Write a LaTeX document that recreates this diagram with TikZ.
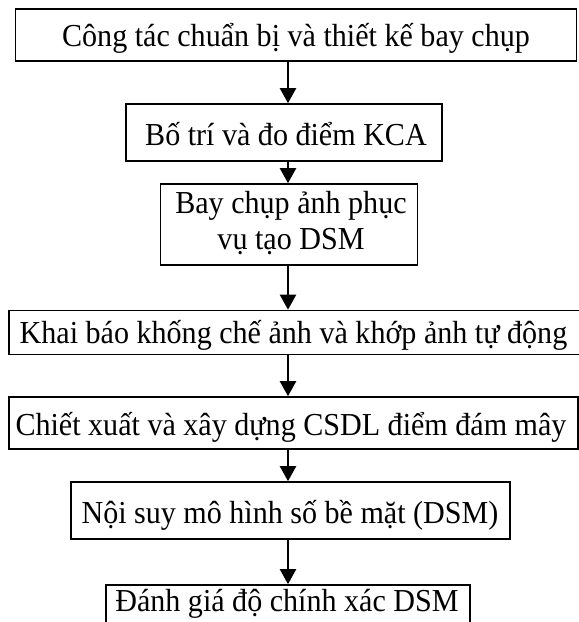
\documentclass[tikz,border=0pt]{standalone}
\usepackage{fontspec}
\setmainfont[FakeStretch=0.94]{Liberation Serif}
\usetikzlibrary{arrows.meta}
\begin{document}
\begin{tikzpicture}[x=1pt,y=-1pt,
  box/.style={draw,line width=1.6pt,inner sep=0pt},
  lbl/.style={font=\fontsize{32}{36}\selectfont,inner sep=0pt,align=center,anchor=base},
  arr/.style={line width=2.2pt,-{Triangle[width=16pt,length=15pt]}}]
\useasboundingbox (0,0) rectangle (579,622);
\coordinate (ax) at (288,0);
\node[box,minimum width=561pt,minimum height=52pt] (b1) at (296,35) {};
\node[box,minimum width=316pt,minimum height=57pt] (b2) at (284,132.5) {};
\node[box,minimum width=257pt,minimum height=81pt] (b3) at (289,224.5) {};
\node[box,minimum width=575pt,minimum height=44pt] (b4) at (296.5,332.5) {};
\node[box,minimum width=569pt,minimum height=52pt] (b5) at (293.5,423) {};
\node[box,minimum width=439pt,minimum height=57pt] (b6) at (290.5,510.5) {};
\node[box,minimum width=364pt,minimum height=40pt] (b7) at (288,605) {};
\node[lbl] (t1) at (296,46) {Công tác chuẩn bị và thiết kế bay chụp};
\node[lbl] (t2) at (286,145) {Bố trí và đo điểm KCA};
\node[lbl] (t3) at (291,249) {Bay chụp ảnh phục\\vụ tạo DSM};
\node[lbl] (t4) at (293.5,343) {Khai báo khống chế ảnh và khớp ảnh tự động};
\node[lbl] (t5) at (291,435) {Chiết xuất và xây dựng CSDL điểm đám mây};
\node[lbl] (t6) at (290,523.5) {Nội suy mô hình số bề mặt (DSM)};
\node[lbl] (t7) at (287,611) {Đánh giá độ chính xác DSM};
\draw[arr] (b1.south -| ax) -- (b2.north -| ax);
\draw[arr] (b2.south -| ax) -- (b3.north -| ax);
\draw[arr] (b3.south -| ax) -- (b4.north -| ax);
\draw[arr] (b4.south -| ax) -- (b5.north -| ax);
\draw[arr] (b5.south -| ax) -- (b6.north -| ax);
\draw[arr] (b6.south -| ax) -- (b7.north -| ax);
\end{tikzpicture}
\end{document}
